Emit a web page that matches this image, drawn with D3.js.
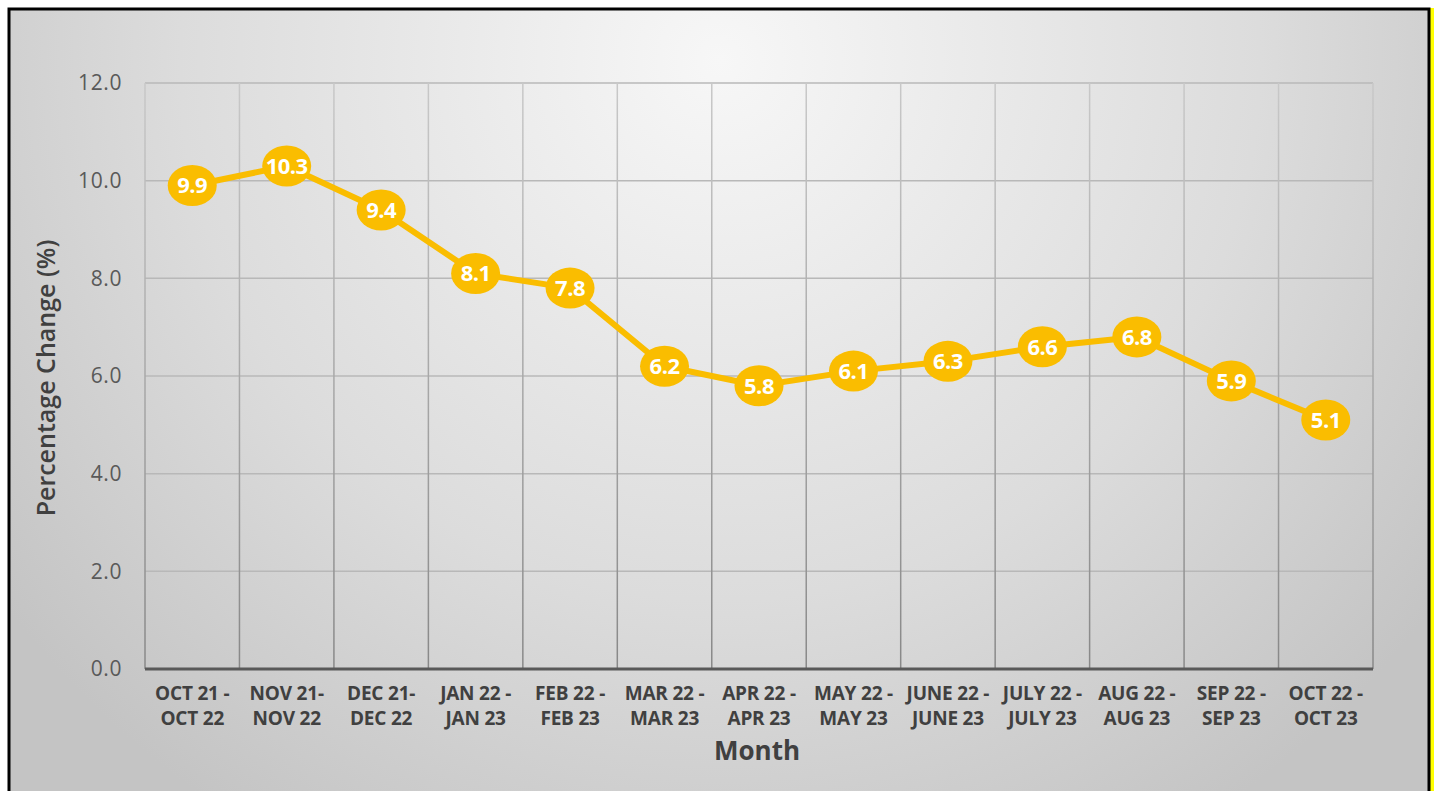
<!DOCTYPE html>
<html>
<head>
<meta charset="utf-8">
<script src="https://cdn.jsdelivr.net/npm/d3@7"></script>
<style>
  html, body { margin: 0; padding: 0; background: #fff; }
  svg { display: block; }
</style>
</head>
<body>
<svg id="svg" width="1437" height="791"></svg>
<script>
// data
const months = [
  ['OCT 21 -', 'OCT 22'], ['NOV 21-', 'NOV 22'], ['DEC 21-', 'DEC 22'],
  ['JAN 22 -', 'JAN 23'], ['FEB 22 -', 'FEB 23'], ['MAR 22 -', 'MAR 23'],
  ['APR 22 -', 'APR 23'], ['MAY 22 -', 'MAY 23'], ['JUNE 22 -', 'JUNE 23'],
  ['JULY 22 -', 'JULY 23'], ['AUG 22 -', 'AUG 23'], ['SEP 22 -', 'SEP 23'],
  ['OCT 22 -', 'OCT 23']
];
const change = [9.9, 10.3, 9.4, 8.1, 7.8, 6.2, 5.8, 6.1, 6.3, 6.6, 6.8, 5.9, 5.1];
const yTicks = [0, 2, 4, 6, 8, 10, 12];

const W = 1437, H = 791;
const plot = { left: 145, right: 1373, top: 83, bottom: 669 };
const gold = '#FABD00';

const svg = d3.select('#svg');
const defs = svg.append('defs');

const bg = defs.append('radialGradient').attr('id', 'bg')
  .attr('gradientUnits', 'userSpaceOnUse')
  .attr('cx', 720).attr('cy', 60).attr('r', 900)
  .attr('fx', 720).attr('fy', 60);
bg.append('stop').attr('offset', '0%').attr('stop-color', '#f7f7f7');
bg.append('stop').attr('offset', '60%').attr('stop-color', '#dcdcdc');
bg.append('stop').attr('offset', '100%').attr('stop-color', '#c4c4c4');

const vgrid = defs.append('linearGradient').attr('id', 'vgrid')
  .attr('gradientUnits', 'userSpaceOnUse')
  .attr('x1', 0).attr('y1', plot.top).attr('x2', 0).attr('y2', plot.bottom);
vgrid.append('stop').attr('offset', '0%').attr('stop-color', '#c8c8c8');
vgrid.append('stop').attr('offset', '100%').attr('stop-color', '#888888');

// frame
svg.append('rect').attr('x', 1430).attr('y', 8).attr('width', 4).attr('height', H - 8).attr('fill', '#ffff00');
svg.append('rect').attr('x', 9).attr('y', 9).attr('width', 1420).attr('height', H + 20)
  .attr('fill', 'url(#bg)').attr('stroke', '#000').attr('stroke-width', 3);

const x = d3.scaleBand().domain(d3.range(months.length)).range([plot.left, plot.right]).padding(0);
const y = d3.scaleLinear().domain([0, 12]).range([plot.bottom, plot.top]);

// horizontal grid
svg.append('g').selectAll('line').data(yTicks.filter(d => d > 0)).join('line')
  .attr('x1', plot.left).attr('x2', plot.right)
  .attr('y1', d => y(d)).attr('y2', d => y(d))
  .attr('stroke', '#b8b8b8').attr('stroke-width', 1.5);

// vertical grid at band edges
const edges = d3.range(months.length + 1).map(i => plot.left + i * x.bandwidth());
svg.append('g').selectAll('line').data(edges).join('line')
  .attr('x1', d => d).attr('x2', d => d)
  .attr('y1', plot.top).attr('y2', plot.bottom)
  .attr('stroke', 'url(#vgrid)').attr('stroke-width', 1.5);

// y axis labels
const yAxis = svg.append('g').attr('transform', `translate(${plot.left - 23},0)`)
  .call(d3.axisLeft(y).tickValues(yTicks).tickFormat(d3.format('.1f')).tickSize(0).tickPadding(0));
yAxis.select('.domain').remove();
yAxis.selectAll('text')
  .attr('fill', '#595959').attr('font-family', '"Open Sans", sans-serif').attr('font-size', 21)
  .attr('letter-spacing', 0.6);

// x axis line
svg.append('line').attr('x1', plot.left).attr('x2', plot.right)
  .attr('y1', plot.bottom).attr('y2', plot.bottom)
  .attr('stroke', '#595959').attr('stroke-width', 3);

// category labels
const cat = svg.append('g').selectAll('text').data(months).join('text')
  .attr('x', (d, i) => x(i) + x.bandwidth() / 2)
  .attr('y', 700)
  .attr('text-anchor', 'middle')
  .attr('fill', '#404040')
  .attr('font-family', '"Open Sans", sans-serif').attr('font-weight', 'bold').attr('font-size', 19)
  .attr('letter-spacing', -0.2);
cat.append('tspan').attr('x', (d, i) => x(i) + x.bandwidth() / 2).text(d => d[0]);
cat.append('tspan').attr('x', (d, i) => x(i) + x.bandwidth() / 2).attr('dy', 25).text(d => d[1]);

// axis titles
svg.append('text').attr('x', (plot.left + plot.right) / 2 - 2).attr('y', 760)
  .attr('text-anchor', 'middle').attr('fill', '#404040')
  .attr('font-family', '"Open Sans", sans-serif').attr('font-weight', 'bold').attr('font-size', 26)
  .text('Month');
svg.append('text')
  .attr('transform', `translate(55,${(plot.top + plot.bottom) / 2 + 2}) rotate(-90)`)
  .attr('text-anchor', 'middle').attr('fill', '#404040')
  .attr('font-family', '"Open Sans", sans-serif').attr('font-weight', 600).attr('font-size', 25)
  .text('Percentage Change (%)');

// line
const line = d3.line().x((d, i) => x(i) + x.bandwidth() / 2).y(d => y(d));
svg.append('path').datum(change).attr('d', line)
  .attr('fill', 'none').attr('stroke', gold).attr('stroke-width', 6).attr('stroke-linejoin', 'round');

// markers + labels
const pts = svg.append('g').selectAll('g').data(change).join('g')
  .attr('transform', (d, i) => `translate(${x(i) + x.bandwidth() / 2},${y(d)})`);
pts.append('ellipse').attr('rx', 24.5).attr('ry', 20.5).attr('fill', gold);
pts.append('text').attr('text-anchor', 'middle').attr('dy', '0.36em')
  .attr('fill', '#fff').attr('font-family', '"Open Sans", sans-serif').attr('font-weight', 'bold').attr('font-size', 22)
  .attr('letter-spacing', -0.5)
  .text(d => d.toFixed(1));
</script>
</body>
</html>
